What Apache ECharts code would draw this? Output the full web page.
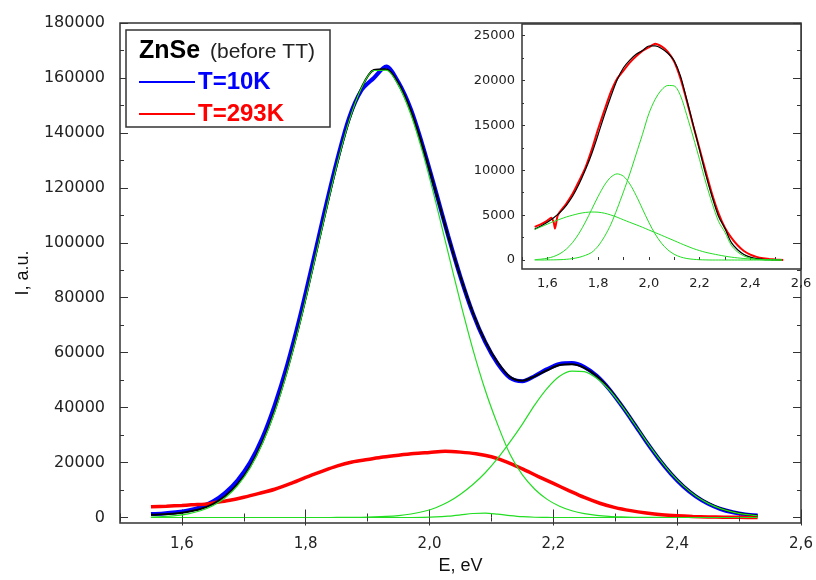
<!DOCTYPE html>
<html>
<head>
<meta charset="utf-8">
<script src="https://cdn.jsdelivr.net/npm/echarts@6/dist/echarts.min.js"></script>
<style>html,body{margin:0;padding:0;background:#fff}#c{width:816px;height:580px}</style>
</head>
<body>
<div id="c"></div>
<script>
// ---------- main panel data (E in eV, I in a.u.) ----------
const mainE = [1.55,1.57,1.59,1.61,1.63,1.65,1.67,1.69,1.71,1.73,1.75,1.77,1.79,1.81,1.83,1.85,1.87,1.89,1.91,1.93,
  1.95,1.97,1.99,2.01,2.03,2.05,2.07,2.09,2.11,2.13,2.15,2.17,2.19,2.21,2.23,2.25,2.27,2.29,2.31,2.33,
  2.35,2.37,2.39,2.41,2.43,2.45,2.47,2.49,2.51,2.53];
const blue10K = [1300,1500,1900,2600,3800,5800,9000,13600,20000,29000,41000,55500,72500,91500,111000,129500,145500,155500,160000,164200,
  158300,148500,134600,118800,102600,87500,74300,63800,56000,50800,49600,51500,54000,55900,56200,54800,51600,46800,40800,34300,
  27600,21400,15900,11300,7700,5000,3100,1900,1100,700];
const fit10K = [1000,1200,1500,2100,3100,4900,7800,12200,18500,27400,39000,53500,70500,89500,109200,128100,144400,156400,162900,163200,
  157900,147900,134200,118600,102500,87600,74600,64200,56500,51200,49800,51400,53600,55500,55750,54500,51500,46900,41000,34500,
  27850,21650,16150,11550,7900,5200,3300,2000,1200,700];
const peak1 = [180,360,710,1340,2440,4270,7180,11600,18000,26900,38500,53100,70200,89300,109000,128000,144300,156300,162700,162800,
  157200,146600,132000,114800,96400,78200,61200,46300,33800,23000,15500,10300,6600,4100,2450,1400,780,410,210,100,
  50,20,0,0,0,0,0,0,0,0];
const peak2 = [0,0,0,0,0,0,0,0,0,0,0,0,0,0,0,20,45,100,200,380,
  710,1270,2180,3560,5620,8490,12000,16300,21500,27500,34000,41000,47000,51400,53300,53100,50700,46500,40800,34400,
  27800,21600,16100,11500,7840,5150,3240,1960,1130,630];
const peak3 = [0,0,0,0,0,0,0,0,0,0,0,0,0,0,0,0,0,0,0,0,
  0,0,60,200,500,950,1450,1580,1200,700,300,90,20,0,0,0,0,0,0,0,
  0,0,0,0,0,0,0,0,0,0];

// ---------- T=293K data ----------
const redE = [1.55,1.575,1.6,1.615,1.625,1.63,1.64,1.65,1.675,1.7,1.725,1.75,1.775,1.8,1.825,1.85,1.875,1.9,1.925,1.95,
  1.975,2.0,2.025,2.05,2.075,2.1,2.125,2.15,2.175,2.2,2.225,2.25,2.275,2.3,2.325,2.35,2.375,2.4,2.425,2.45,2.475,2.5,2.53];
// as seen in the main panel (thick trace)
const red293Main = [3900,4100,4400,4600,4700,4750,4900,5300,6200,7400,8800,10300,12300,14600,16700,18700,20200,21100,22000,22700,
  23300,23700,24100,23800,23200,22100,20200,17700,15000,12400,9800,7300,5200,3600,2500,1650,1000,600,350,200,120,60,0];
// as seen in the inset (thin trace)
const red293Inset = [3700,4000,4400,4700,4200,3500,4900,5400,6300,7400,8800,10300,12300,14600,16700,18700,20200,21100,22000,22700,
  23300,23700,24100,23800,23200,22100,20200,17700,15000,12400,9800,7300,5200,3600,2500,1650,1000,600,350,200,120,60,0];

// ---------- inset fit data ----------
const insetE = [1.55,1.575,1.6,1.625,1.65,1.675,1.7,1.725,1.75,1.775,1.8,1.825,1.85,1.875,1.9,1.925,1.95,1.975,2.0,2.025,
  2.05,2.075,2.1,2.125,2.15,2.175,2.2,2.225,2.25,2.275,2.3,2.325,2.35,2.375,2.4,2.425,2.45,2.475,2.5,2.525];
const insetFit = [3444,3797,4212,4710,5303,6100,7130,8460,10050,11850,13960,16160,18200,20070,21420,22280,22920,23340,23850,23860,
  23580,23040,22200,20490,17830,15060,12285,9462,7000,4860,3530,1970,1140,620,320,160,80,40,15,5];
const insetBandA = [3400,3700,4000,4300,4550,4800,5000,5180,5300,5350,5330,5220,5020,4770,4480,4200,3930,3650,3350,3060,
  2760,2460,2160,1850,1560,1280,1050,850,700,560,430,320,240,170,120,80,50,30,15,5];
const insetBandB = [44,97,202,390,713,1220,1970,2980,4230,5650,7080,8340,9230,9600,9340,8480,7190,5690,4200,2900,
  1870,1130,640,340,170,80,35,12,0,0,0,0,0,0,0,0,0,0,0,0];
const insetBandC = [0,0,10,20,40,80,160,300,520,850,1550,2600,3950,5700,7600,9600,11800,14000,16300,17900,
  18950,19450,19400,18300,16100,13700,11200,8600,6300,4300,3100,1650,900,450,200,80,30,10,0,0];

// ---------- tick values ----------
const xLabelTicks = [1.6,1.8,2.0,2.2,2.4,2.6];
const xMinorTicks = [1.5,1.7,1.9,2.1,2.3,2.5];
const xAllTicks = [1.5,1.6,1.7,1.8,1.9,2.0,2.1,2.2,2.3,2.4,2.5,2.6];
const yMainTicks = [0,20000,40000,60000,80000,100000,120000,140000,160000,180000];
const yMainMinor = [10000,30000,50000,70000,90000,110000,130000,150000,170000];
const yInsetTicks = [0,5000,10000,15000,20000,25000];
const yInsetMinor = [2500,7500,12500,17500,22500];

const pairs = (xs, ys) => xs.map((x, i) => [x, ys[i]]);
const comma = v => (Math.round(v * 10) / 10).toFixed(1).replace('.', ',');
const plain = v => String(Math.round(v));
const FONT = 'Liberation Sans, Arial, sans-serif';
const TICKFONT = 'DejaVu Sans, sans-serif';
const AX = '#333';

function tickAxis(grid, pos, min, max, ticks, len, extra) {
  return Object.assign({
    type: 'value', gridIndex: grid, position: pos, min: min, max: max,
    axisLine: {show: false}, splitLine: {show: false},
    axisTick: {show: true, inside: true, length: len, customValues: ticks, lineStyle: {color: AX, width: 1}},
    axisLabel: {show: false}
  }, extra || {});
}

const chart = echarts.init(document.getElementById('c'), null, {renderer: 'canvas'});
const option = {
  animation: false,
  backgroundColor: '#fff',
  grid: [
    {left: 120, right: 15, top: 23, bottom: 56, show: true, borderColor: AX, borderWidth: 1.5, backgroundColor: '#fff', z: 0},
    {left: 522, right: 15, top: 24, bottom: 311, show: true, borderColor: AX, borderWidth: 1.5, backgroundColor: '#fff', z: 3}
  ],
  xAxis: [
    tickAxis(0, 'bottom', 1.5, 2.6, xLabelTicks, 8, {
      name: 'E, eV', nameLocation: 'middle', nameGap: 34,
      nameTextStyle: {fontFamily: FONT, fontSize: 18, color: '#111'},
      axisLabel: {show: true, customValues: xLabelTicks, formatter: comma, margin: 14,
        fontFamily: TICKFONT, fontSize: 15, color: '#222'}
    }),
    tickAxis(0, 'bottom', 1.5, 2.6, xMinorTicks, 4),
    tickAxis(0, 'top', 1.5, 2.6, xLabelTicks, 8, {z: 10}),
    tickAxis(0, 'top', 1.5, 2.6, xMinorTicks, 4, {z: 10}),
    tickAxis(1, 'bottom', 1.5, 2.6, xAllTicks, 3, {z: 6,
      axisLabel: {show: true, customValues: xLabelTicks, formatter: comma, margin: 8,
        fontFamily: TICKFONT, fontSize: 13, color: '#222'}
    })
  ],
  yAxis: [
    tickAxis(0, 'left', -2000, 180000, yMainTicks, 8, {
      name: 'I, a.u.', nameLocation: 'middle', nameGap: 88, nameRotate: 90,
      nameTextStyle: {fontFamily: FONT, fontSize: 18, color: '#111'},
      axisLabel: {show: true, customValues: yMainTicks, formatter: plain, margin: 15,
        fontFamily: TICKFONT, fontSize: 16, color: '#222'}
    }),
    tickAxis(0, 'left', -2000, 180000, yMainMinor, 4),
    tickAxis(0, 'right', -2000, 180000, yMainTicks, 8, {z: 10}),
    tickAxis(0, 'right', -2000, 180000, yMainMinor, 4, {z: 10}),
    tickAxis(1, 'left', -1000, 26300, yInsetTicks, 3, {z: 6,
      axisLabel: {show: true, customValues: yInsetTicks, formatter: plain, margin: 7,
        fontFamily: TICKFONT, fontSize: 13, color: '#222'}
    }),
    tickAxis(1, 'left', -1000, 26300, yInsetMinor, 2, {z: 6})
  ],
  series: [
    {type: 'line', name: 'T=10K', xAxisIndex: 0, yAxisIndex: 0, data: pairs(mainE, blue10K), smooth: 0.3,
      showSymbol: false, lineStyle: {color: '#0000ff', width: 4}, z: 2},
    {type: 'line', name: 'T=293K', xAxisIndex: 0, yAxisIndex: 0, data: pairs(redE, red293Main), smooth: 0.3,
      showSymbol: false, lineStyle: {color: '#ff0000', width: 3.5}, z: 2},
    {type: 'line', name: 'fit 10K', xAxisIndex: 0, yAxisIndex: 0, data: pairs(mainE, fit10K), smooth: 0.3,
      showSymbol: false, lineStyle: {color: '#000', width: 2}, z: 3},
    {type: 'line', name: 'peak 1', xAxisIndex: 0, yAxisIndex: 0, data: pairs(mainE, peak1), smooth: 0.3,
      showSymbol: false, lineStyle: {color: '#22dd22', width: 1.2}, z: 4},
    {type: 'line', name: 'peak 2', xAxisIndex: 0, yAxisIndex: 0, data: pairs(mainE, peak2), smooth: 0.3,
      showSymbol: false, lineStyle: {color: '#22dd22', width: 1.2}, z: 4},
    {type: 'line', name: 'peak 3', xAxisIndex: 0, yAxisIndex: 0, data: pairs(mainE, peak3), smooth: 0.3,
      showSymbol: false, lineStyle: {color: '#22dd22', width: 1.2}, z: 4},

    {type: 'line', name: 'inset 293K', xAxisIndex: 4, yAxisIndex: 4, data: pairs(redE, red293Inset), smooth: 0.2,
      showSymbol: false, lineStyle: {color: '#ff0000', width: 2}, z: 5},
    {type: 'line', name: 'inset fit', xAxisIndex: 4, yAxisIndex: 4, data: pairs(insetE, insetFit), smooth: 0.3,
      showSymbol: false, lineStyle: {color: '#000', width: 1.2}, z: 6},
    {type: 'line', name: 'band A', xAxisIndex: 4, yAxisIndex: 4, data: pairs(insetE, insetBandA), smooth: 0.3,
      showSymbol: false, lineStyle: {color: '#22dd22', width: 1}, z: 7},
    {type: 'line', name: 'band B', xAxisIndex: 4, yAxisIndex: 4, data: pairs(insetE, insetBandB), smooth: 0.3,
      showSymbol: false, lineStyle: {color: '#22dd22', width: 1}, z: 7},
    {type: 'line', name: 'band C', xAxisIndex: 4, yAxisIndex: 4, data: pairs(insetE, insetBandC), smooth: 0.3,
      showSymbol: false, lineStyle: {color: '#22dd22', width: 1}, z: 7}
  ],
  graphic: [
    {type: 'rect', z: 20, shape: {x: 126, y: 30, width: 204, height: 97},
      style: {fill: '#fff', stroke: AX, lineWidth: 1.5}},
    {type: 'text', z: 21, x: 139, y: 51,
      style: {text: 'ZnSe', fontFamily: FONT, fontWeight: 'bold', fontSize: 25, fill: '#000', verticalAlign: 'middle'}},
    {type: 'text', z: 21, x: 210, y: 52,
      style: {text: '(before TT)', fontFamily: FONT, fontSize: 21, fill: '#222', verticalAlign: 'middle'}},
    {type: 'line', z: 21, shape: {x1: 139, y1: 82, x2: 195, y2: 82}, style: {stroke: '#0000ff', lineWidth: 2}},
    {type: 'text', z: 21, x: 198, y: 82,
      style: {text: 'T=10K', fontFamily: FONT, fontWeight: 'bold', fontSize: 24, fill: '#0000ff', verticalAlign: 'middle'}},
    {type: 'line', z: 21, shape: {x1: 139, y1: 114, x2: 195, y2: 114}, style: {stroke: '#ff0000', lineWidth: 2}},
    {type: 'text', z: 21, x: 198, y: 114,
      style: {text: 'T=293K', fontFamily: FONT, fontWeight: 'bold', fontSize: 24, fill: '#ff0000', verticalAlign: 'middle'}}
  ]
};
chart.setOption(option);
</script>
</body>
</html>
